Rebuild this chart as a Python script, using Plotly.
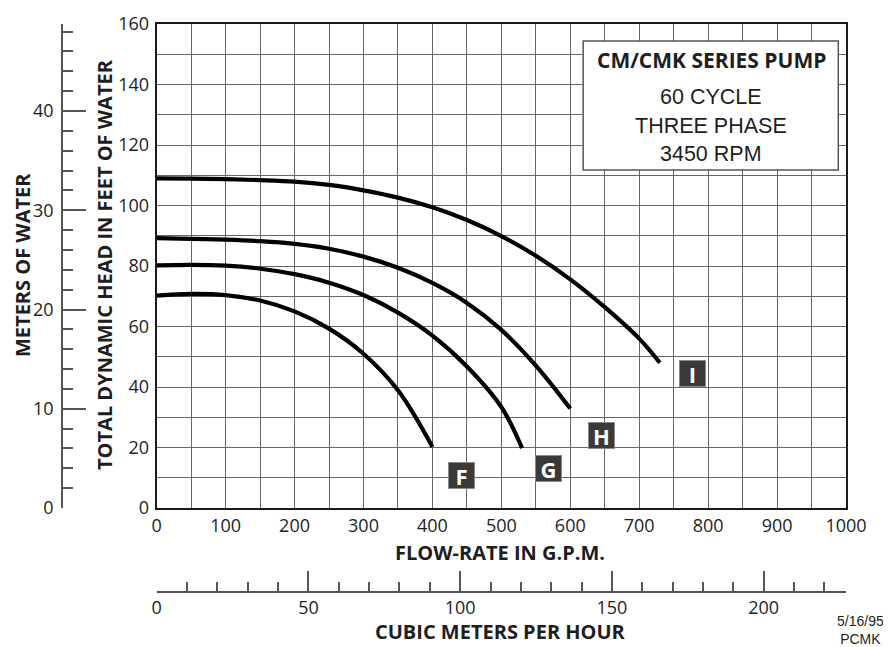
import plotly.graph_objects as go

# ---- data (flow in G.P.M., head in feet) ----
curve_names = ["F", "G", "H", "I"]
gpm_F = [0, 50, 100, 150, 200, 250, 300, 350, 400]
ft_F = [70.2, 70.8, 70.4, 68.6, 65.0, 59.3, 51.0, 38.9, 20.2]
gpm_G = [0, 50, 100, 150, 200, 250, 300, 350, 400, 450, 500, 530]
ft_G = [80.2, 80.4, 80.1, 79.1, 77.3, 74.5, 70.4, 64.6, 57.0, 46.8, 33.4, 19.8]
gpm_H = [0, 50, 100, 150, 200, 250, 300, 350, 400, 450, 500, 550, 600]
ft_H = [89.2, 89.0, 88.7, 88.2, 87.3, 85.7, 83.1, 79.4, 74.4, 67.8, 58.9, 47.1, 32.9]
gpm_I = [0, 50, 100, 150, 200, 250, 300, 350, 400, 450, 500, 550, 600, 650, 700, 730]
ft_I = [109.0, 108.9, 108.7, 108.4, 107.9, 106.8, 105.0, 102.6, 99.4, 95.2,
        89.9, 83.4, 75.6, 66.4, 56.0, 48.0]

label_gpm = [442, 568, 646, 777]
label_ft = [10.9, 13.1, 24.1, 44.3]

gpm_ticks = [0, 100, 200, 300, 400, 500, 600, 700, 800, 900, 1000]
ft_ticks = [0, 20, 40, 60, 80, 100, 120, 140, 160]
m_ticks = [0, 10, 20, 30, 40]
m3h_ticks = [0, 50, 100, 150, 200]

box_lines = ["<b>CM/CMK SERIES PUMP</b>", "60 CYCLE", "THREE PHASE", "3450 RPM"]

FT_TO_M = 0.3048
GPM_TO_M3H = 0.2271247

# ---- layout geometry (page body adds an 8px offset) ----
OFF = 8
W, H = 891 - OFF, 647 - OFF
ML, MR, MT, MB = 0, 45, 24 - OFF, 10
PW = W - ML - MR
PH = H - MT - MB
PLOT_L, PLOT_B = 156.7, 508.0


def px(x):
    return (x - OFF - ML) / PW


def py(y):
    return (H - MB - (y - OFF)) / PH


fig = go.Figure()
curves = [(gpm_F, ft_F), (gpm_G, ft_G), (gpm_H, ft_H), (gpm_I, ft_I)]
for name, (xs, ys) in zip(curve_names, curves):
    fig.add_trace(go.Scatter(
        x=xs, y=ys, mode="lines", name=name,
        line=dict(color="black", width=4.2, shape="spline", smoothing=1.0),
        xaxis="x", yaxis="y", showlegend=False, hoverinfo="skip"))

# invisible traces to activate secondary axes
fig.add_trace(go.Scatter(x=[0], y=[0], xaxis="x2", yaxis="y", mode="markers",
                         marker=dict(opacity=0), showlegend=False, hoverinfo="skip"))
fig.add_trace(go.Scatter(x=[0], y=[0], xaxis="x", yaxis="y2", mode="markers",
                         marker=dict(opacity=0), showlegend=False, hoverinfo="skip"))

grid_col = "#666666"
tick_font = dict(family="Open Sans", size=18, color="#1e1e1e")
title_font = dict(family="Open Sans", size=20, color="#1e1e1e")

fig.update_layout(
    width=W, height=H,
    margin=dict(l=ML, r=MR, t=MT, b=MB, autoexpand=False),
    paper_bgcolor="white", plot_bgcolor="white",
    xaxis=dict(
        domain=[px(PLOT_L), 1], range=[0, 1000], automargin=False,
        tickvals=gpm_ticks, ticktext=[str(v) for v in gpm_ticks],
        showgrid=True, gridcolor=grid_col, gridwidth=1.3,
        minor=dict(dtick=50, showgrid=True, gridcolor=grid_col, gridwidth=1.3),
        showline=True, linecolor="#1a1a1a", linewidth=2, mirror=True,
        ticks="", tickfont=tick_font, zeroline=False, fixedrange=True,
    ),
    yaxis=dict(
        domain=[py(PLOT_B), 1], range=[0, 160], automargin=False,
        tickvals=ft_ticks, ticktext=[str(v) for v in ft_ticks],
        showgrid=True, gridcolor=grid_col, gridwidth=1.3,
        minor=dict(dtick=10, showgrid=True, gridcolor=grid_col, gridwidth=1.3),
        showline=True, linecolor="#1a1a1a", linewidth=2, mirror=True,
        ticks="", tickfont=tick_font, zeroline=False, fixedrange=True,
        ticklabelstandoff=2,
    ),
    yaxis2=dict(
        overlaying="y", anchor="free", position=px(62), side="left",
        range=[0, 160 * FT_TO_M], automargin=False,
        tickvals=m_ticks, ticktext=[str(v) for v in m_ticks],
        ticks="inside", ticklen=23, tickwidth=1.5, tickcolor="#555",
        minor=dict(dtick=2, ticks="inside", ticklen=10, tickwidth=1.5, tickcolor="#555"),
        showline=True, linecolor="#555", linewidth=1.5,
        showgrid=False, zeroline=False, tickfont=tick_font, fixedrange=True,
        ticklabelstandoff=4,
    ),
    xaxis2=dict(
        overlaying="x", anchor="free", position=py(591.7), side="bottom",
        range=[0, 1000 * GPM_TO_M3H], automargin=False,
        tickvals=m3h_ticks, ticktext=[str(v) for v in m3h_ticks],
        ticks="inside", ticklen=20, tickwidth=1.5, tickcolor="#555",
        minor=dict(dtick=10, ticks="inside", ticklen=9, tickwidth=1.5, tickcolor="#555"),
        showline=True, linecolor="#555", linewidth=1.5,
        showgrid=False, zeroline=False, tickfont=tick_font, fixedrange=True,
    ),
)

# title box
fig.add_shape(type="rect", xref="x", yref="y", x0=618.7, x1=988.8, y0=111.7, y1=154.4,
              fillcolor="white", line=dict(color="#555", width=1.5), layer="above")
box_y = [148.1, 135.9, 126.3, 117.0]
for i, (t, yv) in enumerate(zip(box_lines, box_y)):
    if i == 0:
        f = dict(family="Open Sans", size=21, color="#1e1e1e")
    else:
        f = dict(family="Liberation Sans", size=21.5, color="#1e1e1e")
    fig.add_annotation(x=804.5, y=yv, xref="x", yref="y", text=t, showarrow=False,
                       font=f, xanchor="center", yanchor="middle")

# curve labels
for name, xv, yv in zip(curve_names, label_gpm, label_ft):
    fig.add_annotation(x=xv, y=yv, xref="x", yref="y", text="<b>" + name + "</b>",
                       showarrow=False, width=25, height=25, bgcolor="#3a3a3a",
                       bordercolor="#8a8a8a", borderwidth=1, borderpad=0,
                       font=dict(family="Open Sans", size=22, color="white"),
                       xanchor="center", yanchor="middle", align="center", valign="middle")

# axis titles
fig.add_annotation(x=px(22), y=py(265), xref="paper", yref="paper",
                   text="<b>METERS OF WATER</b>", textangle=-90, showarrow=False,
                   font=title_font, xanchor="center", yanchor="middle")
fig.add_annotation(x=px(104.5), y=py(264.5), xref="paper", yref="paper",
                   text="<b>TOTAL DYNAMIC HEAD IN FEET OF WATER</b>", textangle=-90,
                   showarrow=False, font=title_font, xanchor="center", yanchor="middle")
fig.add_annotation(x=px(500), y=py(552.3), xref="paper", yref="paper",
                   text="<b>FLOW-RATE IN G.P.M.</b>", showarrow=False,
                   font=title_font, xanchor="center", yanchor="middle")
fig.add_annotation(x=px(500), y=py(631.5), xref="paper", yref="paper",
                   text="<b>CUBIC METERS PER HOUR</b>", showarrow=False,
                   font=title_font, xanchor="center", yanchor="middle")
fig.add_annotation(x=px(860.5), y=py(629.5), xref="paper", yref="paper",
                   text="5/16/95<br>PCMK", showarrow=False,
                   font=dict(family="Liberation Sans", size=14, color="#1e1e1e"),
                   xanchor="center", yanchor="middle", align="center")

fig.write_html("out.html")
